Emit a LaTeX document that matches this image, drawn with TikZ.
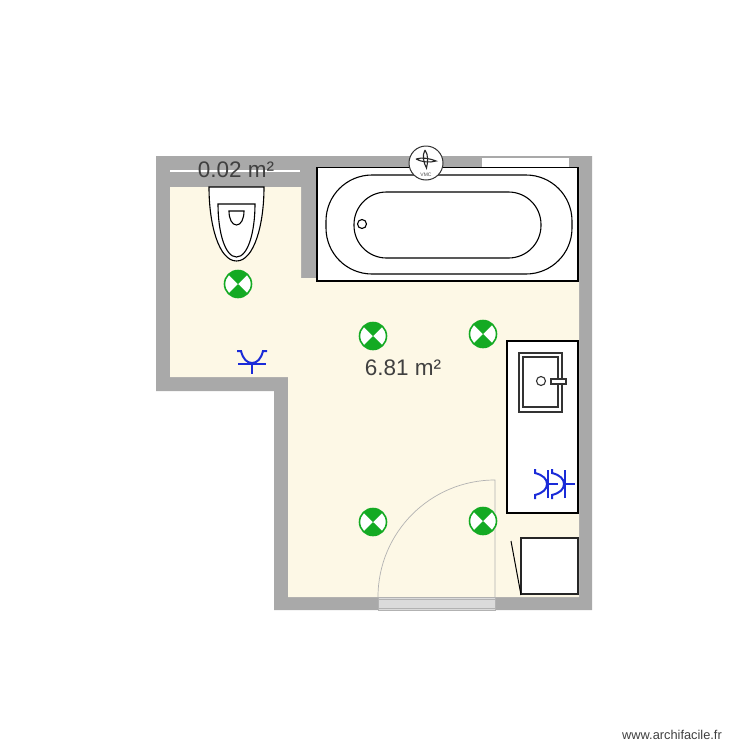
\documentclass[tikz,border=0pt]{standalone}
\usepackage{fontspec}
\setmainfont{Liberation Sans}
\usetikzlibrary{calc,positioning}

\definecolor{wallgray}{HTML}{A9A9A9}
\definecolor{floorcream}{HTML}{FDF8E6}
\definecolor{lampgreen}{HTML}{14AA23}
\definecolor{socketblue}{HTML}{1A2BD8}
\definecolor{labelgray}{HTML}{404040}

\begin{document}
\begin{tikzpicture}[x=1pt,y=-1pt,
    fixture/.style={draw=black,fill=white,line width=1.1pt},
    doorline/.style={draw=black!30,line width=0.7pt},
    area/.style={text=labelgray,font=\fontsize{22.5}{26}\selectfont,inner sep=0pt},
    lampe/.style={circle,draw=lampgreen,fill=white,line width=1.6pt,minimum size=27pt,inner sep=0pt,
        path picture={
            \fill[lampgreen] (path picture bounding box.center) -- ++(-12,-12) arc[start angle=225,end angle=315,radius=17] -- cycle;
            \fill[lampgreen] (path picture bounding box.center) -- ++(-12,12) arc[start angle=135,end angle=45,radius=17] -- cycle;
        }},
    socket/.pic={
        \draw[socketblue,line width=2pt] (-15,-13) -- (-11,-13) .. controls (-9,-5) and (-5,-1) .. (0,-1) .. controls (5,-1) and (9,-5) .. (11,-13) -- (15,-13);
        \draw[socketblue,line width=2pt] (-14,0) -- (14,0) (0,0) -- (0,10);
    }]

    % Page size
    \useasboundingbox (0,0) rectangle (750,750);

    % Draw walls
    \fill[wallgray] (156,156) -- (592,156) -- (592,610) -- (274,610) -- (274,391) -- (156,391) -- cycle;

    % Draw floor
    \fill[floorcream] (170,187) -- (301,187) -- (301,278) -- (316,278) -- (316,167) -- (579,167) -- (579,597) -- (288,597) -- (288,377) -- (170,377) -- cycle;

    % Draw window and white wall line
    \fill[white] (482,158) rectangle (569,167);
    \draw[white,line width=1.2pt] (170,171) -- (300,171);

    % Draw door
    \fill[black!14] (378,597) rectangle (495,610);
    \draw[doorline] (378,597) rectangle (495,610);
    \draw[doorline] (378,599.5) -- (495,599.5) (378,608) -- (495,608);
    \draw[doorline] (378,597) arc[start angle=180,end angle=270,radius=117] -- (495,597);

    % Draw bath
    \draw[fixture] (317,167.5) rectangle (578,281);
    \draw[fixture,rounded corners=46pt] (326,175) rectangle (572,274);
    \draw[fixture,rounded corners=32.5pt] (354,192) rectangle (541,258);
    \draw[fixture] (362,224) circle[radius=4.5];

    % Draw fan
    \node[circle,draw=black!80,fill=white,line width=1pt,minimum size=34pt,inner sep=0pt] (fan) at (426,163) {};
    \draw[black!85,line width=1.1pt] (425,150) .. controls (428.5,155) and (428,162) .. (426.5,168) .. controls (423.5,163) and (422,155) .. (425,150);
    \draw[black!85,line width=1.1pt] (416,159) .. controls (422,157) and (430,158.5) .. (436,161) .. controls (430,163) and (421,162) .. (416,159);
    \node[font=\fontsize{5}{6}\selectfont,text=black!70,inner sep=0pt] (fanlabel) at (426,174.5) {VMC};

    % Draw toilet
    \draw[fixture] (209,187) -- (264,187) .. controls (264,225) and (254,261) .. (236.5,261) .. controls (219,261) and (209,225) .. (209,187) -- cycle;
    \draw[fixture] (218,204) -- (255,204) .. controls (255,232) and (248,257) .. (236.5,257) .. controls (225,257) and (218,232) .. (218,204) -- cycle;
    \draw[fixture] (229,211) -- (244,211) .. controls (244,219) and (241,225) .. (236.5,225) .. controls (232,225) and (229,219) .. (229,211) -- cycle;

    % Draw vanity and basin
    \draw[fixture] (507,341) rectangle (578,513);
    \draw[fixture,draw=black!80] (519,353) rectangle (562,412);
    \draw[fixture,draw=black!80] (523,357) rectangle (558,407);
    \draw[fixture,draw=black!80] (541,381) circle[radius=4.5];
    \draw[fixture,draw=black!80] (551,379) rectangle (566,384);

    % Draw shower box
    \draw[fixture,draw=black!85] (521,538) rectangle (578,594);
    \draw[black,line width=1pt] (511,541) -- (521,595);

    % Draw lamps
    \foreach \name/\x/\y in {a/238/284,b/373/336,c/483/334,d/373/522,e/483/521}
        \node[lampe] (lamp\name) at (\x,\y) {};

    % Draw sockets
    \pic at (252,364) {socket};
    \pic[rotate=90] at (548,484) {socket};
    \pic[rotate=90] at (565,484) {socket};

    % Label areas
    \node[area] (smallarea) at (236,170) {0.02 m²};
    \node[area] (mainarea) at (403,368) {6.81 m²};
    \node[font=\fontsize{12.8}{15}\selectfont,text=labelgray,inner sep=0pt] (site) at (672,735) {www.archifacile.fr};
\end{tikzpicture}
\end{document}
